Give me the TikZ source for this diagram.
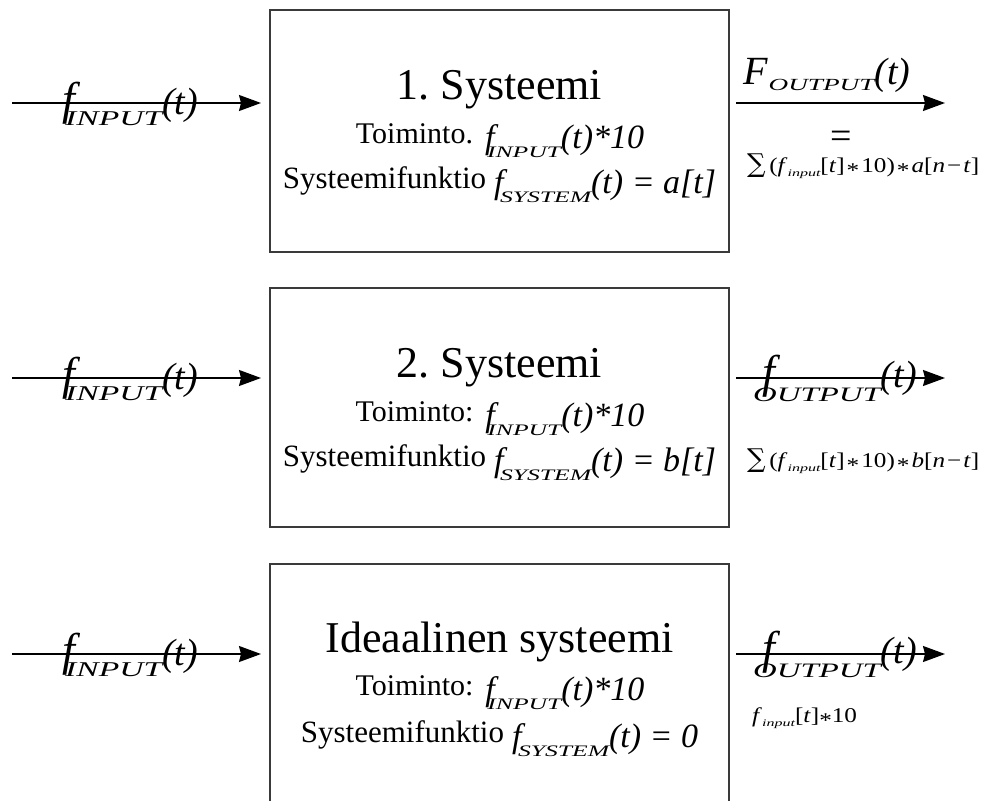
\documentclass[tikz,border=0pt]{standalone}
\usepackage{fontspec}
\setmainfont{Liberation Serif}
\newfontfamily\subf[FakeStretch=1.6]{Liberation Serif}
\newfontfamily\sumf[FakeStretch=1.2]{Liberation Serif}
\newfontfamily\symf{DejaVu Serif}
\usetikzlibrary{arrows.meta}
\definecolor{boxgray}{HTML}{3A3A3A}
\frenchspacing
\newcommand\ssz[1]{\fontsize{#1}{#1}\selectfont}
% stretched italic subscript, dropped by #3
\newcommand\wsub[3]{\raisebox{-#3}{\subf\ssz{#2}\itshape #1}}
% centred asterisk and spaced operators of the sums
\newcommand\mstar{\raisebox{-5pt}{*}}
\newcommand\sop[1]{\hspace{2pt}#1\hspace{2pt}}
\newcommand\bigsum{{\symf\ssz{26}∑}}
% small index "input" of the sums
\newcommand\inp{\raisebox{-4pt}{\subf\ssz{10}\itshape input}}
\tikzset{
  sysbox/.style={draw=boxgray, line width=2pt, minimum width=459pt, inner sep=0pt},
  sig/.style={line width=1.5pt, -{Stealth[length=22pt,width=16pt,inset=2pt]}},
  txt/.style={inner sep=0pt, anchor=base},
  lbl/.style={inner sep=0pt, anchor=base west}
}
\begin{document}
\begin{tikzpicture}[x=1pt,y=-1pt]
\useasboundingbox (0,0) rectangle (987,800);
\clip (0,0) rectangle (987,800);
\fill[white] (0,0) rectangle (987,800);

% the three system blocks
\node[sysbox, minimum height=242pt] (b1) at (499.5,131) {};
\node[sysbox, minimum height=239pt] (b2) at (499.5,407.5) {};
\node[sysbox, minimum height=240pt] (b3) at (499.5,684) {};

% signal ends
\coordinate (i1) at (12,103);
\coordinate (i2) at (12,378);
\coordinate (i3) at (12,654);
\coordinate (o1) at (945,103);
\coordinate (o2) at (945,378);
\coordinate (o3) at (945,654);

% input and output signals
\draw[sig, shorten >=8pt] (i1) -- (i1 -| b1.west);
\draw[sig, shorten >=8pt] (i2) -- (i2 -| b2.west);
\draw[sig, shorten >=8pt] (i3) -- (i3 -| b3.west);
\draw[sig, shorten <=6pt] (b1.east |- o1) -- (o1);
\draw[sig, shorten <=6pt] (b2.east |- o2) -- (o2);
\draw[sig, shorten <=6pt] (b3.east |- o3) -- (o3);

% input labels
\node[lbl] (li1) at (64,114) {\rlap{\kern-2pt\ssz{46}\itshape f}\kern1pt\wsub{INPUT}{21}{11pt}\ssz{38}\itshape (t)};
\node[lbl] (li2) at (64,389) {\rlap{\kern-2pt\ssz{46}\itshape f}\kern1pt\wsub{INPUT}{21}{11pt}\ssz{38}\itshape (t)};
\node[lbl] (li3) at (64,665) {\rlap{\kern-2pt\ssz{46}\itshape f}\kern1pt\wsub{INPUT}{21}{11pt}\ssz{38}\itshape (t)};

% block 1
\node[txt] (t1) at (499.5,99) {\ssz{44}1. Systeemi};
\node[txt] (a1) at (500,143) {\ssz{30}Toiminto.\hspace{12pt}\raisebox{-5pt}{\rlap{\ssz{34}\itshape f}\kern2pt\wsub{INPUT}{16}{9pt}\ssz{34}\itshape (t)*10}};
\node[txt] (c1) at (499.5,188) {\ssz{31}Systeemifunktio\hspace{8pt}\raisebox{-5pt}{\rlap{\ssz{34}\itshape f}\kern6pt\wsub{SYSTEM}{16}{9pt}\ssz{34}\itshape (t) = a[t]}};

% block 2
\node[txt] (t2) at (499.5,377) {\ssz{44}2. Systeemi};
\node[txt] (a2) at (500,421) {\ssz{30}Toiminto:\hspace{12pt}\raisebox{-5pt}{\rlap{\ssz{34}\itshape f}\kern2pt\wsub{INPUT}{16}{9pt}\ssz{34}\itshape (t)*10}};
\node[txt] (c2) at (499.5,466) {\ssz{31}Systeemifunktio\hspace{8pt}\raisebox{-5pt}{\rlap{\ssz{34}\itshape f}\kern6pt\wsub{SYSTEM}{16}{9pt}\ssz{34}\itshape (t) = b[t]}};

% block 3
\node[txt] (t3) at (499.5,652) {\ssz{44}Ideaalinen systeemi};
\node[txt] (a3) at (500,695) {\ssz{30}Toiminto:\hspace{12pt}\raisebox{-5pt}{\rlap{\ssz{34}\itshape f}\kern2pt\wsub{INPUT}{16}{9pt}\ssz{34}\itshape (t)*10}};
\node[txt] (c3) at (499.5,742) {\ssz{31}Systeemifunktio\hspace{8pt}\raisebox{-5pt}{\rlap{\ssz{34}\itshape f}\kern6pt\wsub{SYSTEM}{16}{9pt}\ssz{34}\itshape (t) = 0}};

% output labels
\node[lbl] (lo1) at (743,84) {\ssz{40}\itshape F\kern1pt\wsub{OUTPUT}{17}{6pt}\ssz{38}\itshape (t)};
\node[txt] (eq1) at (841,148) {\ssz{38}=};
\node[lbl] (s1) at (747,172) {\sumf\ssz{21}\bigsum\,(\textit{f}\inp[\textit{t}]\sop{\mstar}10)\sop{\mstar}\textit{a}[\textit{n}\sop{−}\textit{t}]};

\node[lbl] (lo2) at (753,387) {\rlap{\kern9pt\ssz{46}\itshape f}\wsub{OUTPUT}{20.5}{14pt}\ssz{38}\itshape (t)};
\node[lbl] (s2) at (747,467) {\sumf\ssz{21}\bigsum\,(\textit{f}\inp[\textit{t}]\sop{\mstar}10)\sop{\mstar}\textit{b}[\textit{n}\sop{−}\textit{t}]};

\node[lbl] (lo3) at (753,663) {\rlap{\kern9pt\ssz{46}\itshape f}\wsub{OUTPUT}{20.5}{14pt}\ssz{38}\itshape (t)};
\node[lbl] (s3) at (752,722) {\sumf\ssz{21}\textit{f}\inp[\textit{t}]\mstar10};
\end{tikzpicture}
\end{document}
